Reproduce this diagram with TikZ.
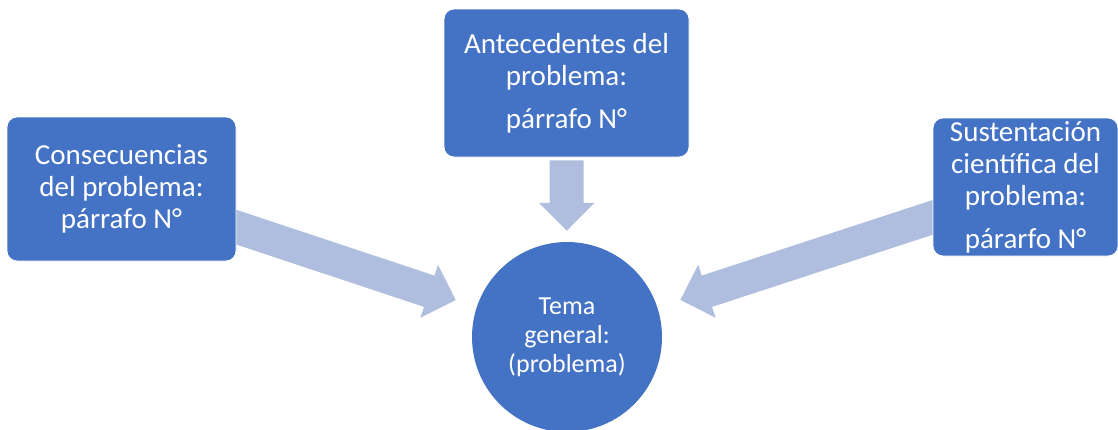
\documentclass[tikz,border=0pt]{standalone}
\usepackage{fontspec}
\setmainfont{Carlito}
\usetikzlibrary{arrows.meta,backgrounds}
\definecolor{boxblue}{HTML}{4472C4}
\definecolor{arrowblue}{HTML}{AFBDDF}
\begin{document}
\begin{tikzpicture}[x=1pt,y=-1pt,
  box/.style={fill=boxblue, draw=white, line width=0.8pt, rounded corners=10pt,
    text=white, align=center, inner sep=0pt, font=\fontsize{29}{32}\selectfont},
  hub/.style={circle, fill=boxblue, text=white, align=center, inner sep=0pt,
    minimum size=190pt, font=\fontsize{26}{29}\selectfont},
  bigarrow/.style={draw=arrowblue, line width=33pt,
    -{Triangle[length=28pt,width=54pt]}}
]
\useasboundingbox (0,0) rectangle (1118,429);
\node[box, minimum width=229pt, minimum height=144pt] (cons) at (121.5,189)
  {Consecuencias\\del problema:\\párrafo N°};
\node[box, minimum width=245pt, minimum height=148pt] (ante) at (566.5,83)
  {Antecedentes del\\problema:\\[11pt]párrafo N°};
\node[box, minimum width=185pt, minimum height=138pt] (sust) at (1025.5,187)
  {Sustentación\\científica del\\problema:\\[11pt]párarfo N°};
\node[hub] (tema) at (567,337) {Tema\\general:\\(problema)};
\begin{scope}[on background layer]
  \draw[bigarrow, shorten >=22pt] (cons.center) -- (tema);
  \draw[bigarrow, shorten >=24pt] (sust.center) -- (tema);
  \draw[bigarrow, line width=34pt, shorten <=3pt, shorten >=11pt] (ante) -- (tema);
\end{scope}
\end{tikzpicture}
\end{document}
